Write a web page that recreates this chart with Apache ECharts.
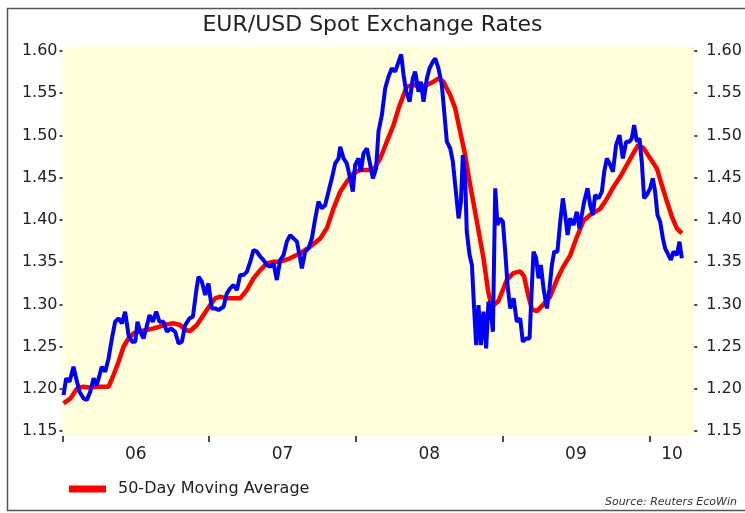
<!DOCTYPE html>
<html>
<head>
<meta charset="utf-8">
<script src="https://cdn.jsdelivr.net/npm/echarts@6/dist/echarts.min.js"></script>
<style>html,body{margin:0;padding:0;background:#fff;}#c{width:745px;height:513px;}</style>
</head>
<body>
<div id="c"></div>
<script>
// EUR/USD spot (decimal year, rate)
const spotDates = [
2006.007,2006.025,2006.048,2006.075,2006.093,2006.116,2006.143,2006.166,2006.189,2006.212,
2006.234,2006.268,2006.291,2006.314,2006.337,2006.359,2006.382,2006.405,2006.427,2006.450,
2006.473,2006.496,2006.511,2006.530,2006.552,2006.571,2006.593,2006.616,2006.639,2006.661,
2006.689,2006.711,2006.739,2006.768,2006.791,2006.814,2006.836,2006.866,2006.889,2006.911,
2006.927,2006.950,2006.973,2006.995,2007.018,2007.041,2007.064,2007.098,2007.120,2007.143,
2007.166,2007.189,2007.211,2007.234,2007.257,2007.280,2007.302,2007.325,2007.348,2007.370,
2007.393,2007.416,2007.439,2007.461,2007.484,
2007.507,2007.529,2007.552,2007.575,2007.598,2007.620,2007.632,2007.654,2007.677,2007.700,
2007.723,2007.745,2007.768,2007.791,2007.813,2007.836,2007.859,2007.882,2007.893,2007.916,
2007.938,2007.961,2007.979,2007.995,2008.018,2008.034,2008.052,2008.075,2008.098,2008.116,
2008.138,2008.154,2008.177,2008.200,2008.222,2008.245,2008.268,2008.291,2008.309,2008.325,
2008.343,2008.366,2008.388,2008.404,2008.427,2008.443,2008.461,2008.484,2008.502,2008.525,
2008.541,2008.563,2008.586,2008.602,2008.620,2008.643,2008.661,2008.684,2008.700,2008.716,
2008.729,2008.745,2008.756,2008.775,2008.791,2008.806,2008.820,2008.836,2008.852,2008.870,
2008.888,2008.904,
2008.916,2008.934,2008.950,2008.965,2008.984,2009.002,2009.018,2009.034,2009.052,2009.075,
2009.097,2009.120,2009.138,2009.161,2009.184,2009.200,2009.211,2009.229,2009.245,2009.261,
2009.279,2009.302,2009.320,2009.336,2009.352,2009.374,2009.393,2009.411,2009.427,2009.443,
2009.461,2009.484,2009.506,2009.524,2009.540,2009.556,2009.579,2009.597,2009.615,2009.631,
2009.654,2009.677,2009.693,2009.711,2009.734,2009.752,2009.774,2009.797,2009.820,2009.843,
2009.865,2009.881,2009.897,2009.915,2009.933,2009.949,2009.965,2009.983,2010.006,2010.024,
2010.040,2010.056,2010.074,2010.093,2010.108,2010.131,2010.147,2010.165,2010.188,2010.206,
2010.222
];
const spotValues = [
1.1926,1.2124,1.2084,1.2261,1.2124,1.1965,1.1887,1.1867,1.1965,1.2124,
1.2044,1.2261,1.2202,1.2360,1.2597,1.2794,1.2834,1.2775,1.2913,1.2637,
1.2558,1.2558,1.2794,1.2676,1.2597,1.2716,1.2873,1.2794,1.2913,1.2794,
1.2794,1.2676,1.2716,1.2676,1.2538,1.2558,1.2755,1.2834,1.2854,1.3150,
1.3327,1.3268,1.3110,1.3248,1.2952,1.2952,1.2933,1.2972,1.3130,1.3189,
1.3229,1.3169,1.3347,1.3347,1.3387,1.3505,1.3643,1.3624,1.3564,1.3525,
1.3466,1.3446,1.3485,1.3288,1.3525,
1.3584,1.3742,1.3820,1.3781,1.3742,1.3545,1.3426,1.3624,1.3663,1.3781,
1.4018,1.4216,1.4137,1.4176,1.4334,1.4492,1.4670,1.4729,1.4867,1.4729,
1.4670,1.4492,1.4334,1.4650,1.4729,1.4571,1.4788,1.4847,1.4650,1.4492,
1.4610,1.5045,1.5242,1.5558,1.5696,1.5795,1.5755,1.5874,1.5960,1.5716,
1.5518,1.5400,1.5676,1.5755,1.5518,1.5637,1.5400,1.5676,1.5795,1.5874,
1.5913,1.5795,1.5597,1.5282,1.4926,1.4847,1.4689,1.4295,1.4018,1.4216,
1.4768,1.4492,1.3860,1.3584,1.3466,1.2952,1.2518,1.2992,1.2518,1.2913,
1.2479,1.3031,
1.2992,1.2676,1.4374,1.3939,1.4018,1.3979,1.3624,1.3229,1.2952,1.3071,
1.2794,1.2834,1.2558,1.2597,1.2597,1.3229,1.3624,1.3545,1.3308,1.3466,
1.3189,1.2952,1.3189,1.3466,1.3624,1.3624,1.3979,1.4255,1.4058,1.3821,
1.4018,1.3939,1.4097,1.3900,1.4058,1.4216,1.4374,1.4176,1.4058,1.4295,
1.4255,1.4334,1.4571,1.4729,1.4650,1.4571,1.4887,1.5005,1.4729,1.4926,
1.4926,1.4966,1.5124,1.4926,1.4966,1.4689,1.4255,1.4295,1.4374,1.4492,
1.4334,1.4058,1.3979,1.3781,1.3663,1.3584,1.3525,1.3624,1.3584,1.3742,
1.3545
];
// 50-day moving average
const maDates = [
2006.007,2006.055,2006.100,2006.143,2006.189,2006.234,2006.280,2006.314,2006.348,2006.382,
2006.416,2006.450,2006.484,2006.530,2006.575,2006.621,2006.661,2006.711,2006.757,2006.802,
2006.836,2006.870,2006.916,2006.961,2007.007,2007.041,2007.075,2007.120,2007.166,2007.211,
2007.257,2007.302,2007.348,2007.393,2007.439,2007.484,2007.552,2007.620,2007.688,2007.757,
2007.802,2007.848,2007.893,2007.938,2007.984,2008.029,2008.075,2008.120,2008.166,2008.211,
2008.257,2008.291,2008.325,2008.347,2008.393,2008.438,2008.484,2008.529,2008.563,2008.597,
2008.643,2008.677,2008.711,2008.745,2008.779,2008.825,2008.870,2008.902,2008.927,2008.972,
2009.029,2009.074,2009.120,2009.147,2009.177,2009.200,2009.234,2009.279,2009.324,2009.370,
2009.415,2009.461,2009.507,2009.552,2009.597,2009.665,2009.711,2009.756,2009.802,2009.847,
2009.892,2009.926,2009.960,2010.006,2010.052,2010.086,2010.120,2010.154,2010.188,2010.222
];
const maValues = [
1.1828,1.1887,1.2005,1.2025,1.2013,1.2025,1.2025,1.2025,1.2163,1.2321,
1.2498,1.2597,1.2657,1.2684,1.2696,1.2716,1.2735,1.2763,1.2775,1.2755,
1.2696,1.2684,1.2755,1.2873,1.2992,1.3071,1.3091,1.3071,1.3071,1.3071,
1.3169,1.3308,1.3406,1.3485,1.3505,1.3505,1.3545,1.3604,1.3683,1.3781,
1.3900,1.4137,1.4334,1.4453,1.4552,1.4591,1.4591,1.4591,1.4729,1.4926,
1.5124,1.5321,1.5479,1.5578,1.5597,1.5578,1.5597,1.5637,1.5676,1.5637,
1.5479,1.5321,1.5045,1.4768,1.4413,1.3979,1.3545,1.3150,1.2970,1.3040,
1.3290,1.3370,1.3390,1.3330,1.3090,1.2940,1.2920,1.3000,1.3090,1.3290,
1.3450,1.3580,1.3800,1.3990,1.4060,1.4130,1.4250,1.4390,1.4510,1.4650,
1.4790,1.4890,1.4850,1.4730,1.4610,1.4410,1.4220,1.4040,1.3900,1.3840
];
const yTicks = [1.15,1.20,1.25,1.30,1.35,1.40,1.45,1.50,1.55,1.60];
const yearTicks = [2006,2007,2008,2009,2010];
const yearLabelPos = [2006.5,2007.5,2008.5,2009.5,2010.155];
const yearLabels = ['06','07','08','09','10'];

const FONT = 'DejaVu Sans';
const zip = (a, b) => a.map((d, i) => [d, b[i]]);

const chart = echarts.init(document.getElementById('c'), null, {renderer: 'canvas'});
const yAxisBase = (pos, margin) => ({
  type: 'value', position: pos, min: 1.1441, max: 1.6051,
  axisLine: {show: false}, splitLine: {show: false},
  axisTick: {show: true, customValues: yTicks, length: 3, lineStyle: {color: '#111', width: 1.5}},
  axisLabel: {customValues: yTicks, margin: margin, formatter: v => v.toFixed(2),
    fontFamily: FONT, fontSize: 16, color: '#222'}
});
chart.setOption({
  animation: false,
  backgroundColor: '#ffffff',
  title: {text: 'EUR/USD Spot Exchange Rates', left: 'center', top: 9,
    textStyle: {fontFamily: FONT, fontSize: 22, fontWeight: 'normal', color: '#222'}},
  grid: {left: 62.5, right: 50.7, top: 46.7, bottom: 77, show: true,
    backgroundColor: '#FFFFDC', borderWidth: 0},
  xAxis: {
    type: 'value', min: 2006, max: 2010.307,
    axisLine: {show: false}, splitLine: {show: false},
    axisTick: {show: true, customValues: yearTicks, length: 6, lineStyle: {color: '#111', width: 1.5}},
    axisLabel: {customValues: yearLabelPos, margin: 10,
      formatter: v => yearLabels[yearTicks.indexOf(Math.floor(v))],
      fontFamily: FONT, fontSize: 17, color: '#222'}
  },
  yAxis: [yAxisBase('left', 5), yAxisBase('right', 12)],
  legend: {
    data: ['50-Day Moving Average'], left: 69, top: 481, padding: 0,
    itemWidth: 37, itemHeight: 7, icon: 'rect',
    textStyle: {fontFamily: FONT, fontSize: 16, color: '#222', lineHeight: 16, padding: [0, 0, 0, 7]}
  },
  series: [
    {name: '50-Day Moving Average', type: 'line', data: zip(maDates, maValues),
      showSymbol: false, smooth: false, color: '#FF0000',
      lineStyle: {color: '#FF0000', width: 4.5}, itemStyle: {color: '#FF0000'}},
    {name: 'EUR/USD', type: 'line', data: zip(spotDates, spotValues),
      showSymbol: false, color: '#0000FF',
      lineStyle: {color: '#0000FF', width: 4}}
  ],
  graphic: [
    {type: 'rect', shape: {x: 7.5, y: 8.5, width: 760, height: 502}, silent: true,
      style: {fill: 'none', stroke: '#555', lineWidth: 1.5}},
    {type: 'text', right: 8, top: 497,
      style: {text: 'Source: Reuters EcoWin', font: 'italic 11px "DejaVu Sans"', fill: '#333'}}
  ]
});
</script>
</body>
</html>
